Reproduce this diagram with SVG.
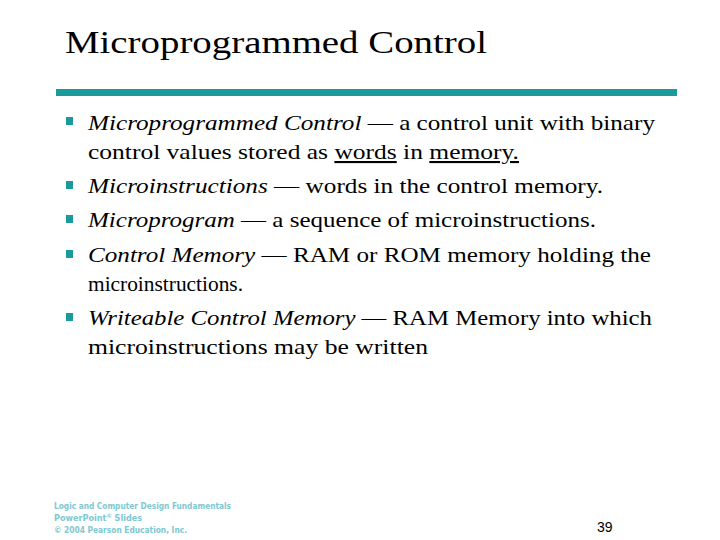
<svg xmlns="http://www.w3.org/2000/svg" width="720" height="540" viewBox="0 0 720 540">
<style>
.t{font-family:"Liberation Serif",serif;font-size:21px;fill:#000}
.b{fill:#1a9a9a}
.f{font-family:"DejaVu Sans Condensed","Liberation Sans",sans-serif;font-size:9px;fill:#7ec8d0;font-weight:bold}
</style>
<rect width="720" height="540" fill="#fff"/>
<text x="65" y="53" font-family="Liberation Serif,serif" font-size="32" textLength="422" lengthAdjust="spacingAndGlyphs">Microprogrammed Control</text>
<rect x="56" y="89" width="621" height="7" class="b"/>
<g class="t">
<rect class="b" x="66" y="117" width="7" height="8"/>
<text x="88" y="130" textLength="567" lengthAdjust="spacingAndGlyphs"><tspan font-style="italic">Microprogrammed Control</tspan> — a control unit with binary</text>
<text x="88" y="159" textLength="431" lengthAdjust="spacingAndGlyphs">control values stored as <tspan text-decoration="underline">words</tspan> in <tspan text-decoration="underline">memory.</tspan></text>
<rect class="b" x="66" y="181" width="7" height="8"/>
<text x="88" y="193" textLength="515" lengthAdjust="spacingAndGlyphs"><tspan font-style="italic">Microinstructions</tspan> — words in the control memory.</text>
<rect class="b" x="66" y="215" width="7" height="8"/>
<text x="88" y="227" textLength="508" lengthAdjust="spacingAndGlyphs"><tspan font-style="italic">Microprogram</tspan> — a sequence of microinstructions.</text>
<rect class="b" x="66" y="250" width="7" height="8"/>
<text x="88" y="262" textLength="563" lengthAdjust="spacingAndGlyphs"><tspan font-style="italic">Control Memory</tspan> — RAM or ROM memory holding the</text>
<text x="88" y="291" textLength="155" lengthAdjust="spacingAndGlyphs">microinstructions.</text>
<rect class="b" x="66" y="313" width="7" height="8"/>
<text x="88" y="325" textLength="564" lengthAdjust="spacingAndGlyphs"><tspan font-style="italic">Writeable Control Memory</tspan> — RAM Memory into which</text>
<text x="88" y="354" textLength="340" lengthAdjust="spacingAndGlyphs">microinstructions may be written</text>
</g>
<g class="f">
<text x="54" y="509" textLength="177" lengthAdjust="spacingAndGlyphs">Logic and Computer Design Fundamentals</text>
<text x="54" y="521">PowerPoint<tspan font-size="6" dy="-3">©</tspan><tspan dy="3"> Slides</tspan></text>
<text x="54" y="533" textLength="133" lengthAdjust="spacingAndGlyphs">© 2004 Pearson Education, Inc.</text>
</g>
<text x="597" y="532" font-family="Liberation Sans,sans-serif" font-size="14">39</text>
</svg>
